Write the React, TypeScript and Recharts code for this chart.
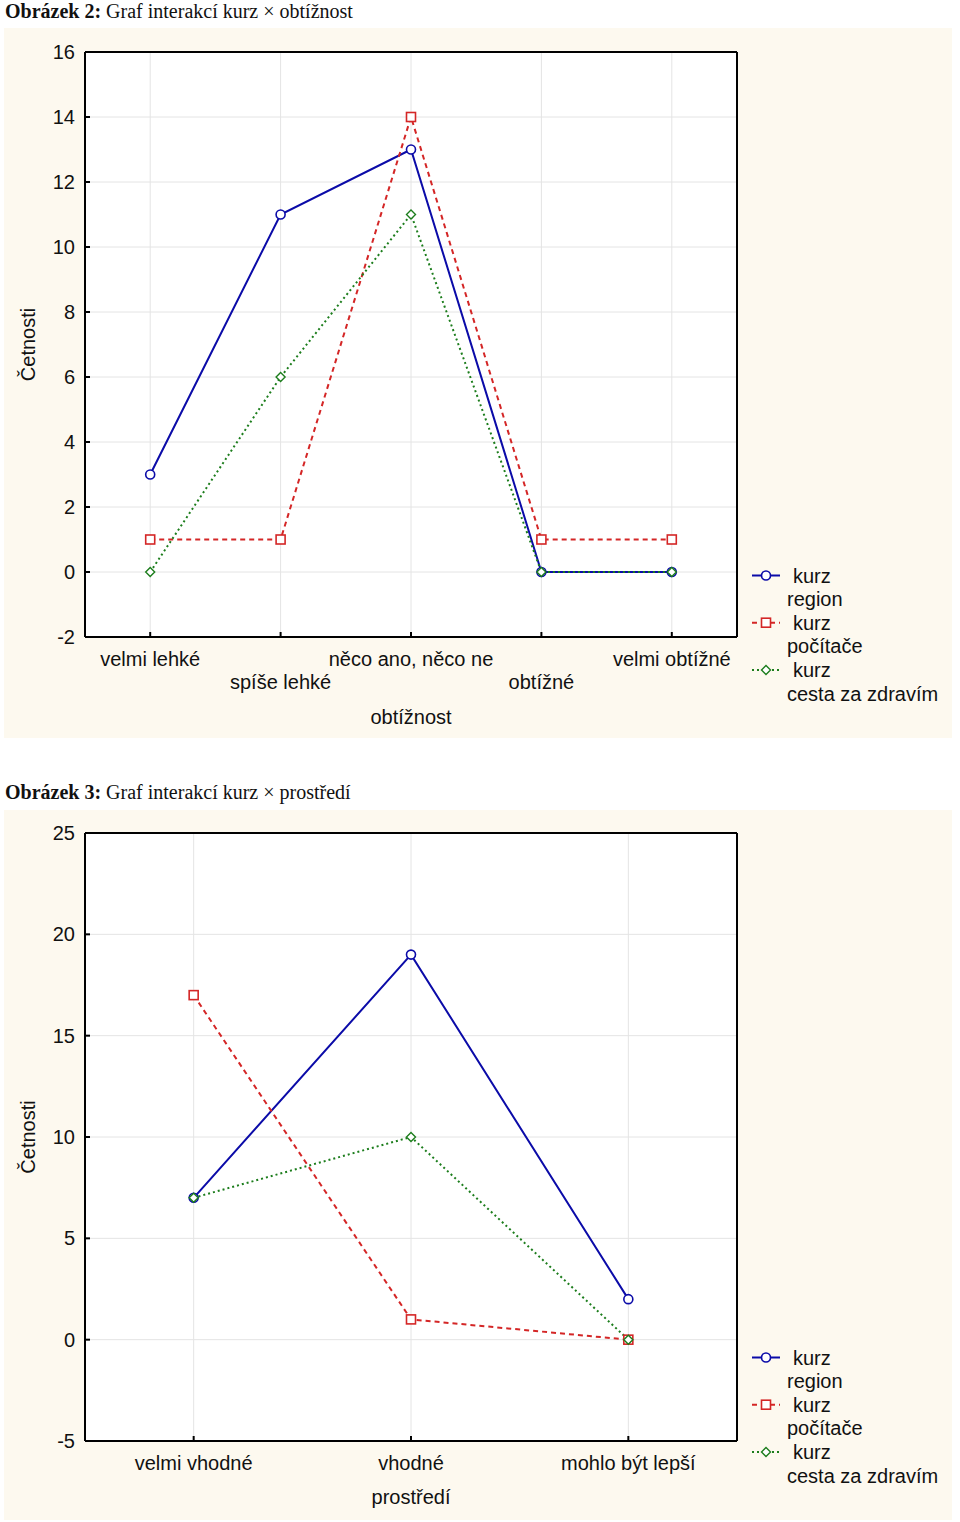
import { CartesianGrid, Label, Line, LineChart, XAxis, YAxis } from 'recharts'

// Obrázek 2: kurz × obtížnost
const difficultyLevels = ['velmi lehké', 'spíše lehké', 'něco ano, něco ne', 'obtížné', 'velmi obtížné']
const regionByDifficulty = [3, 11, 13, 0, 0]
const computersByDifficulty = [1, 1, 14, 1, 1]
const healthByDifficulty = [0, 6, 11, 0, 0]
const difficultyTicks = [-2, 0, 2, 4, 6, 8, 10, 12, 14, 16]

// Obrázek 3: kurz × prostředí
const environmentLevels = ['velmi vhodné', 'vhodné', 'mohlo být lepší']
const regionByEnvironment = [7, 19, 2]
const computersByEnvironment = [17, 1, 0]
const healthByEnvironment = [7, 10, 0]
const environmentTicks = [-5, 0, 5, 10, 15, 20, 25]

const courseNames = ['region', 'počítače', 'cesta za zdravím']

const CREAM = '#fdf9ef'
const SANS = '"Liberation Sans", Arial, sans-serif'
const SERIF = '"Liberation Serif", "Times New Roman", serif'
const W = 948
const H = 710
const PLOT_LEFT = 81
const PLOT_RIGHT = 733

const styles = [
  { key: 's0', color: '#0b0ba8', dash: undefined as string | undefined, shape: 'circle' },
  { key: 's1', color: '#d42626', dash: '5 4', shape: 'square' },
  { key: 's2', color: '#1c7d1c', dash: '2 3', shape: 'diamond' },
]

function Marker({ shape, x, y, color }: { shape: string; x: number; y: number; color: string }) {
  if (shape === 'circle') return <circle cx={x} cy={y} r={4.5} fill="#fff" stroke={color} strokeWidth={1.6} />
  if (shape === 'square')
    return <rect x={x - 4.5} y={y - 4.5} width={9} height={9} fill="#fff" stroke={color} strokeWidth={1.6} />
  return (
    <path
      d={`M${x} ${y - 4.5}L${x + 4.5} ${y}L${x} ${y + 4.5}L${x - 4.5} ${y}Z`}
      fill="#fff"
      stroke={color}
      strokeWidth={1.4}
    />
  )
}

type ChartProps = {
  top: number
  categories: string[]
  series: number[][]
  ticks: number[]
  xTitle: string
  plotTop: number
  plotBottom: number
  stagger: boolean
  titleOffset: number
}

function InteractionChart({ top, categories, series, ticks, xTitle, plotTop, plotBottom, stagger, titleOffset }: ChartProps) {
  const data = categories.map((name, i) => ({ i, name, s0: series[0][i], s1: series[1][i], s2: series[2][i] }))
  const idx = categories.map((_, i) => i)
  const xDomain = [-0.5, categories.length - 0.5]
  const yDomain = [ticks[0], ticks[ticks.length - 1]]
  const frame = { stroke: '#000', strokeWidth: 2 }

  const renderXTick = (p: any) => {
    const row = stagger ? p.payload.value % 2 : 0
    return (
      <text
        x={p.x}
        y={p.y + row * 23}
        textAnchor="middle"
        dominantBaseline="central"
        fontSize={20}
        fontFamily={SANS}
        fill="#111"
      >
        {categories[p.payload.value]}
      </text>
    )
  }

  return (
    <div style={{ position: 'absolute', left: 4, top, width: W, height: H, background: CREAM }}>
      <LineChart
        width={W}
        height={H}
        data={data}
        margin={{ top: plotTop - 1, right: W - PLOT_RIGHT - 1, bottom: 0, left: 0 }}
      >
        <CartesianGrid fill="#fff" stroke="#e4e4e4" />
        <XAxis
          xAxisId="top"
          orientation="top"
          dataKey="i"
          type="number"
          domain={xDomain}
          ticks={idx}
          height={1}
          tick={false}
          tickSize={-5}
          axisLine={frame}
          tickLine={frame}
        />
        <YAxis
          yAxisId="right"
          orientation="right"
          type="number"
          domain={yDomain}
          ticks={ticks}
          width={1}
          tick={false}
          tickSize={-5}
          axisLine={frame}
          tickLine={frame}
        />
        <XAxis
          dataKey="i"
          type="number"
          domain={xDomain}
          ticks={idx}
          height={H - plotBottom}
          tickSize={-5}
          tickMargin={27}
          tick={renderXTick}
          axisLine={frame}
          tickLine={frame}
        >
          <Label
            content={() => (
              <text
                x={(PLOT_LEFT + PLOT_RIGHT) / 2}
                y={plotBottom + titleOffset}
                textAnchor="middle"
                dominantBaseline="central"
                fontSize={20}
                fontFamily={SANS}
                fill="#111"
              >
                {xTitle}
              </text>
            )}
          />
        </XAxis>
        <YAxis
          type="number"
          domain={yDomain}
          ticks={ticks}
          width={PLOT_LEFT}
          tickSize={-5}
          tickMargin={15}
          tick={{ fill: '#111', fontSize: 20, fontFamily: SANS }}
          axisLine={frame}
          tickLine={frame}
        >
          <Label
            content={() => {
              const cx = 24
              const cy = (plotTop + plotBottom) / 2
              return (
                <text
                  x={cx}
                  y={cy}
                  transform={`rotate(-90 ${cx} ${cy})`}
                  textAnchor="middle"
                  dominantBaseline="central"
                  fontSize={20}
                  fontFamily={SANS}
                  fill="#111"
                >
                  Četnosti
                </text>
              )
            }}
          />
        </YAxis>
        {styles.map((s) => (
          <Line
            key={s.key}
            dataKey={s.key}
            stroke={s.color}
            strokeWidth={2}
            strokeDasharray={s.dash}
            isAnimationActive={false}
            dot={(p: any) => <Marker key={`${s.key}-${p.index}`} shape={s.shape} x={p.cx} y={p.cy} color={s.color} />}
          />
        ))}
      </LineChart>
      <svg width={W} height={H} style={{ position: 'absolute', left: 0, top: 0, pointerEvents: 'none' }}>
        {styles.map((s, k) => {
          const y1 = 547.5 + k * 2 * 23.6
          return (
            <g key={s.key} fontSize={20} fontFamily={SANS} fill="#111">
              <line x1={748} x2={776} y1={y1} y2={y1} stroke={s.color} strokeWidth={2} strokeDasharray={s.dash} />
              <Marker shape={s.shape} x={762} y={y1} color={s.color} />
              <text x={789} y={y1} dominantBaseline="central">kurz</text>
              <text x={783} y={y1 + 23.6} dominantBaseline="central">{courseNames[k]}</text>
            </g>
          )
        })}
      </svg>
    </div>
  )
}

function Caption({ top, num, text }: { top: number; num: number; text: string }) {
  return (
    <div style={{ position: 'absolute', left: 5, top, fontFamily: SERIF, fontSize: 20, lineHeight: '20px', color: '#111', whiteSpace: 'nowrap' }}>
      <b>Obrázek {num}:</b> {text}
    </div>
  )
}

export default function App() {
  return (
    <div style={{ position: 'absolute', left: 0, top: 0, width: 960, height: 1522, background: '#fff' }}>
      <Caption top={1} num={2} text="Graf interakcí kurz × obtížnost" />
      <InteractionChart
        top={28}
        categories={difficultyLevels}
        series={[regionByDifficulty, computersByDifficulty, healthByDifficulty]}
        ticks={difficultyTicks}
        xTitle="obtížnost"
        plotTop={24}
        plotBottom={609}
        stagger
        titleOffset={80}
      />
      <Caption top={782} num={3} text="Graf interakcí kurz × prostředí" />
      <InteractionChart
        top={810}
        categories={environmentLevels}
        series={[regionByEnvironment, computersByEnvironment, healthByEnvironment]}
        ticks={environmentTicks}
        xTitle="prostředí"
        plotTop={23}
        plotBottom={631}
        stagger={false}
        titleOffset={56}
      />
    </div>
  )
}
